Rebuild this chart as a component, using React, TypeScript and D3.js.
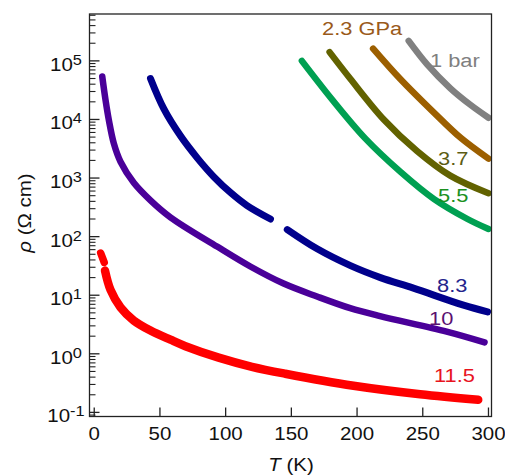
import React from "react";
import * as d3 from "d3";

// ---- data (T in K, rho in Ohm cm) ----
const bar1T = [239.3, 253.3, 271, 286.2, 300];
const bar1R = [2.19e5, 8.7e4, 3.4e4, 1.78e4, 1.07e4];

const gpa23T = [212.2, 232.9, 258.3, 278.6, 300];
const gpa23R = [1.62e5, 4.9e4, 1.32e4, 4.9e3, 2.14e3];

const gpa37T = [179.1, 195, 220.3, 245.6, 270.9, 300];
const gpa37R = [1.41e5, 4.9e4, 1.0e4, 2.9e3, 1.1e3, 550];

const gpa55T = [158, 181, 206, 233.3, 258.6, 284, 300];
const gpa55R = [1.0e5, 2.19e4, 4.8e3, 1.26e3, 437, 200, 135];

const gpa83aT = [42.8, 53, 65.6, 78.5, 91, 103.8, 116.3, 134.1];
const gpa83aR = [5.0e4, 1.51e4, 5.25e3, 2.19e3, 1.05e3, 562, 339, 200];
const gpa83bT = [146.9, 169.6, 195, 217.8, 242.9, 281, 299.3];
const gpa83bR = [132, 62, 32, 20, 13.2, 6.76, 5.2];

const gpa10T = [6.1, 8.6, 11.1, 14.9, 20, 30.1, 42.8, 58, 93.5, 118.8, 144.1, 169.5, 194.8, 217.5, 268.2, 297];
const gpa10R = [5.4e4, 2.14e4, 9.8e3, 3.9e3, 1.9e3, 832, 417, 214, 67.6, 30.9, 15.8, 9.5, 6.0, 4.4, 2.4, 1.57];

const gpa115aT = [4.9, 7.6];
const gpa115aR = [52.5, 36.3];
const gpa115bT = [8.2, 12.4, 20, 30.1, 42.8, 58, 69.4, 94.7, 120, 145.4, 197.3, 248, 292.2];
const gpa115bR = [26.3, 12.3, 6.2, 3.7, 2.5, 1.74, 1.35, 0.86, 0.6, 0.457, 0.285, 0.204, 0.164];

const xTicks = [0, 50, 100, 150, 200, 250, 300];
const yExps = [-1, 0, 1, 2, 3, 4, 5];

type Series = { T: number[]; R: number[]; color: string; width: number };
const series: Series[] = [
  { T: bar1T, R: bar1R, color: "#808080", width: 6.5 },
  { T: gpa23T, R: gpa23R, color: "#9c5f00", width: 6.5 },
  { T: gpa37T, R: gpa37R, color: "#626200", width: 6.5 },
  { T: gpa55T, R: gpa55R, color: "#00a052", width: 6.5 },
  { T: gpa83aT, R: gpa83aR, color: "#00008c", width: 7 },
  { T: gpa83bT, R: gpa83bR, color: "#00008c", width: 7 },
  { T: gpa10T, R: gpa10R, color: "#4a0099", width: 6.5 },
  { T: gpa115aT, R: gpa115aR, color: "#ff0000", width: 7.5 },
  { T: gpa115bT, R: gpa115bR, color: "#ff0000", width: 8.5 },
];

const labels = [
  { text: "1 bar", x: 430, y: 66.5, color: "#808080" },
  { text: "2.3 GPa", x: 322, y: 35, color: "#9a5a1a" },
  { text: "3.7", x: 438, y: 165, color: "#5c5c14" },
  { text: "5.5", x: 438, y: 201.5, color: "#1a9020" },
  { text: "8.3", x: 437, y: 291.5, color: "#24248c" },
  { text: "10", x: 429, y: 325, color: "#5a1070" },
  { text: "11.5", x: 434, y: 381.5, color: "#e8141e" },
];

const L = 89.5, R = 491.5, TOP = 14, BOT = 416.5;
const FONT = "'Liberation Sans', Arial, Helvetica, sans-serif";

export default function App() {
  const x = d3.scaleLinear().domain([-3.6, 302.3]).range([L, R]);
  const y = d3.scaleLog().domain([Math.pow(10, -1.07), Math.pow(10, 5.8)]).range([BOT, TOP]);
  const line = d3
    .line<[number, number]>()
    .x((d) => x(d[0]))
    .y((d) => y(d[1]))
    .curve(d3.curveCatmullRom.alpha(0.5));

  const minor: number[] = [];
  for (let e = -2; e <= 5; e++) {
    for (let k = 2; k <= 9; k++) {
      const v = k * Math.pow(10, e);
      const py = y(v);
      if (py >= TOP && py <= BOT) minor.push(v);
    }
  }

  return (
    <svg width={505} height={475} style={{ display: "block", position: "absolute", left: 0, top: 0 }}>
      <rect x={0} y={0} width={505} height={475} fill="#fff" />
      {series.map((s, i) => (
        <path
          key={i}
          d={line(s.T.map((t, j) => [t, s.R[j]] as [number, number])) || ""}
          fill="none"
          stroke={s.color}
          strokeWidth={s.width}
          strokeLinecap="round"
          strokeLinejoin="round"
        />
      ))}
      {/* frame */}
      <rect x={L} y={TOP} width={R - L} height={BOT - TOP} fill="none" stroke="#222" strokeWidth={1.3} />
      {/* y ticks */}
      {yExps.map((e) => (
        <line key={"ym" + e} x1={L} x2={L + 10} y1={y(Math.pow(10, e))} y2={y(Math.pow(10, e))} stroke="#222" strokeWidth={1.3} />
      ))}
      {minor.map((v, i) => (
        <line key={"yn" + i} x1={L} x2={L + 6} y1={y(v)} y2={y(v)} stroke="#222" strokeWidth={1.1} />
      ))}
      {/* x ticks */}
      {xTicks.map((t) => (
        <line key={"xt" + t} x1={x(t)} x2={x(t)} y1={BOT} y2={BOT - 9} stroke="#222" strokeWidth={1.3} />
      ))}
      {/* x tick labels */}
      {xTicks.map((t) => (
        <text
          key={"xl" + t}
          transform={`translate(${x(t)},440) scale(1.17,1)`}
          textAnchor="middle"
          fontFamily={FONT}
          fontSize={17.5}
          fill="#111"
        >
          {t}
        </text>
      ))}
      {/* y tick labels */}
      {yExps.map((e) => (
        <text
          key={"yl" + e}
          transform={`translate(66,${y(Math.pow(10, e)) + 10}) scale(1.17,1)`}
          textAnchor="middle"
          fontFamily={FONT}
          fontSize={17.5}
          fill="#111"
        >
          10
          <tspan dy={-6} fontSize={14}>
            {e < 0 ? "-" + Math.abs(e) : String(e)}
          </tspan>
        </text>
      ))}
      {/* axis titles */}
      <text transform="translate(291,471) scale(1.17,1)" textAnchor="middle" fontFamily={FONT} fontSize={17.5} fill="#111">
        <tspan fontStyle="italic">T</tspan> (K)
      </text>
      <text transform="translate(31,213) rotate(-90) scale(1.17,1)" textAnchor="middle" fontFamily={FONT} fontSize={17.5} fill="#111">
        <tspan fontStyle="italic">ρ</tspan> (Ω cm)
      </text>
      {/* curve labels */}
      {labels.map((l) => (
        <text
          key={l.text}
          transform={`translate(${l.x},${l.y}) scale(1.15,1)`}
          fontFamily={FONT}
          fontSize={19}
          fill={l.color}
        >
          {l.text}
        </text>
      ))}
    </svg>
  );
}
